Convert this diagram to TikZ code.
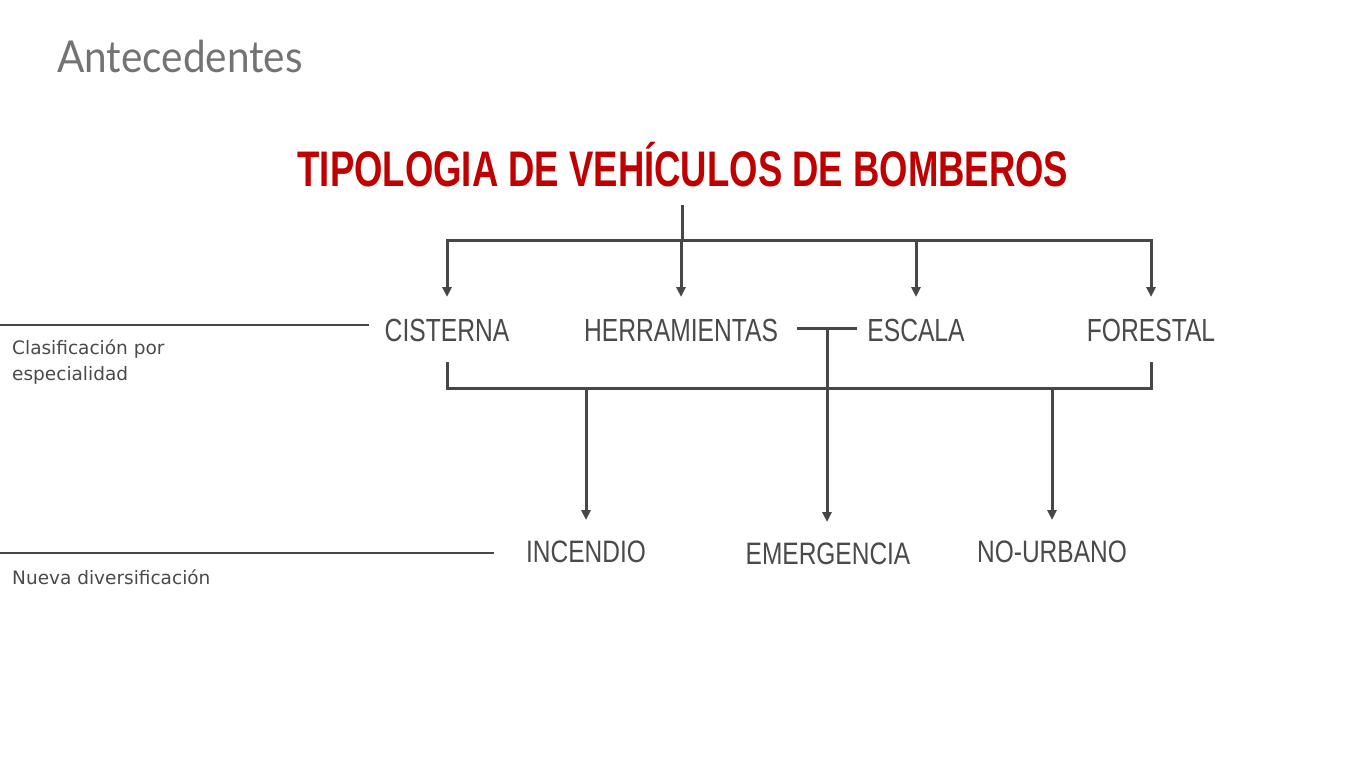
\documentclass[tikz,border=0pt]{standalone}
\usepackage{fontspec}
\setmainfont{Lato}
\newfontfamily\headfont[FakeStretch=0.92]{Lato}
\newfontfamily\condfont[FakeStretch=0.77]{Liberation Sans}
\newfontfamily\condtwofont[FakeStretch=0.79]{Liberation Sans}
\newfontfamily\titlefont[FakeStretch=0.73]{Liberation Sans}
\newfontfamily\notefont{DejaVu Sans}
\usetikzlibrary{arrows.meta}
\definecolor{ink}{HTML}{474747}
\definecolor{txt}{HTML}{4A4A4A}
\definecolor{titlered}{HTML}{C00000}
\definecolor{headgray}{HTML}{737373}
\begin{document}
\begin{tikzpicture}[x=1pt,y=-1pt,
  line/.style={draw=ink,line width=3pt,line join=miter},
  arr/.style={line,-{Triangle[length=10pt,width=9pt]}},
  arrboth/.style={line,{Triangle[length=10pt,width=9pt]}-{Triangle[length=10pt,width=9pt]}},
  lvlone/.style={font=\condfont\fontsize{32}{36}\selectfont,text=txt,anchor=base,
    text height=23pt,text depth=0pt,inner xsep=0pt,inner ysep=21pt,outer sep=0pt},
  lvltwo/.style={font=\condtwofont\fontsize{31}{36}\selectfont,text=txt,anchor=base,
    text height=22pt,text depth=0pt,inner xsep=0pt,inner ysep=20pt,outer sep=0pt},
  note/.style={font=\notefont\fontsize{18.5}{26}\selectfont,text=txt,anchor=base west,
    inner sep=0pt,align=left}]
\useasboundingbox (0,0) rectangle (1366,768);
\fill[white] (0,0) rectangle (1366,768);

\node[anchor=base west,inner sep=0pt,text=headgray,font=\headfont\fontsize{44}{50}\selectfont] (head) at (57,73) {Antecedentes};

\node[anchor=base,inner xsep=0pt,inner ysep=19pt,text depth=0pt,outer sep=0pt,text=titlered,
  font=\titlefont\bfseries\fontsize{50}{56}\selectfont] (title) at (683,186) {TIPOLOGIA DE VEHÍCULOS DE BOMBEROS};

\node[lvlone] (cis) at (447,341) {CISTERNA};
\node[lvlone] (her) at (681,341) {HERRAMIENTAS};
\node[lvlone] (esc) at (916,341) {ESCALA};
\node[lvlone] (for) at (1151,341) {FORESTAL};

\node[lvltwo] (inc) at (586,562) {INCENDIO};
\node[lvltwo] (eme) at (828,564) {EMERGENCIA};
\node[lvltwo] (nou) at (1052,562) {NO-URBANO};

\node[note] (n1) at (12,380) {Clasificación por\\especialidad};
\node[note] (n2) at (12,584) {Nueva diversificación};

\coordinate (top) at (682,240);
\coordinate (bar) at (586,388);
\coordinate (j1) at (827,328);
\coordinate (s1a) at (0,325);
\coordinate (s1b) at (369,325);
\coordinate (s2a) at (0,553);
\coordinate (s2b) at (494,553);

% separators
\draw[line,line width=2pt] (s1a) -- (s1b);
\draw[line,line width=2pt] (s2a) -- (s2b);

% top tree
\draw[line] (top |- title.south) -- (top);
\draw[arrboth] (cis.north) -- (cis.north |- top) -- (for.north |- top) -- (for.north);
\draw[arr] (her.north |- top) -- (her.north);
\draw[arr] (esc.north |- top) -- (esc.north);

% bottom bracket
\draw[line] (cis.south) -- (cis.south |- bar) -- (for.south |- bar) -- (for.south);
\draw[arr] (inc.north |- bar) -- (inc.north);
\draw[arr] (nou.north |- bar) -- (nou.north);

% herramientas - escala junction
\draw[line,shorten <=19pt,shorten >=10pt] (her.east |- j1) -- (esc.west |- j1);
\draw[arr] (j1) -- (j1 |- eme.north);
\end{tikzpicture}
\end{document}
